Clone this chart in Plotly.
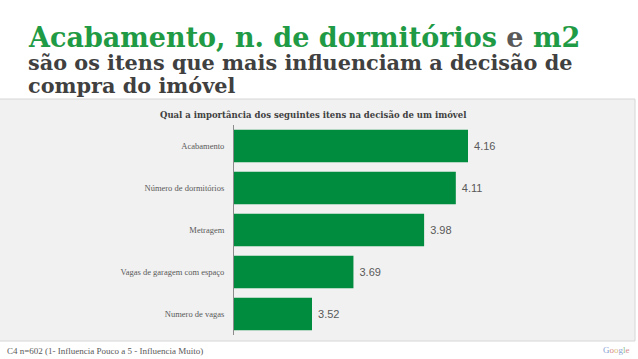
import plotly.graph_objects as go

categories = ["Acabamento", "Número de dormitórios", "Metragem",
              "Vagas de garagem com espaço", "Numero de vagas"]
values = [4.16, 4.11, 3.98, 3.69, 3.52]
value_labels = ["4.16", "4.11", "3.98", "3.69", "3.52"]

W, H = 638, 359
L, R, T, B = 234, 58, 125, 24
PW, PH = W - L - R, H - T - B

def px(x):
    return (x - L) / PW

def py(y):
    return 1 - (y - T) / PH

GREEN = "#008c3e"
HEAD_GREEN = "#1f9a45"

fig = go.Figure(go.Bar(
    x=values, y=categories, orientation="h",
    marker=dict(color=GREEN, line=dict(width=0)),
    width=0.77,
    text=[" " + t for t in value_labels], textposition="outside",
    textfont=dict(family="Liberation Sans", size=11, color="#595959"),
    cliponaxis=False,
))

fig.update_layout(
    width=W, height=H,
    margin=dict(l=L, r=R, t=T, b=B, autoexpand=False),
    paper_bgcolor="white",
    plot_bgcolor="rgba(0,0,0,0)",
    showlegend=False,
)
fig.update_xaxes(range=[3.2, 3.2 + PW / 243.75], showticklabels=False,
                 showgrid=False, zeroline=False, showline=False)
fig.update_yaxes(categoryorder="array", categoryarray=categories[::-1],
                 showline=True, linecolor="#8c8c8c", linewidth=1,
                 showgrid=False, zeroline=False, ticks="",
                 ticklabelstandoff=7,
                 tickfont=dict(family="Liberation Serif", size=8.5, color="#595959"))

# gray panel
fig.add_shape(type="rect", xref="paper", yref="paper",
              x0=px(-1), x1=px(635), y0=py(99), y1=py(341),
              fillcolor="#f1f1f1", line=dict(color="#d6d6d6", width=1),
              layer="below")

# headline
fig.add_annotation(xref="paper", yref="paper", x=px(26), y=py(38),
                   xanchor="left", yanchor="middle", showarrow=False,
                   text=("<b><span style='color:%s'>Acabamento, n. de dormitórios</span>"
                         "<span style='color:#595959'> e </span>"
                         "<span style='color:%s'>m2</span></b>") % (HEAD_GREEN, HEAD_GREEN),
                   font=dict(family="DejaVu Serif", size=27))
fig.add_annotation(xref="paper", yref="paper", x=px(26), y=py(63),
                   xanchor="left", yanchor="middle", showarrow=False,
                   text="<b>são os itens que mais influenciam a decisão de</b>",
                   font=dict(family="DejaVu Serif", size=20.8, color="#404040"))
fig.add_annotation(xref="paper", yref="paper", x=px(26), y=py(85),
                   xanchor="left", yanchor="middle", showarrow=False,
                   text="<b>compra do imóvel</b>",
                   font=dict(family="DejaVu Serif", size=20.8, color="#404040"))

# chart title
fig.add_annotation(xref="paper", yref="paper", x=px(313), y=py(115),
                   xanchor="center", yanchor="middle", showarrow=False,
                   text="<b>Qual a importância dos seguintes itens na decisão de um imóvel</b>",
                   font=dict(family="DejaVu Serif", size=8.5, color="#404040"))

# footnote
fig.add_annotation(xref="paper", yref="paper", x=px(5), y=py(351),
                   xanchor="left", yanchor="middle", showarrow=False,
                   text="C4 n=602 (1- Influencia Pouco a 5 - Influencia Muito)",
                   font=dict(family="Liberation Serif", size=9, color="#595959"))
fig.add_annotation(xref="paper", yref="paper", x=px(632), y=py(350),
                   xanchor="right", yanchor="middle", showarrow=False,
                   text=("<span style='color:#8aa3d6'>G</span><span style='color:#d98c8c'>o</span>"
                         "<span style='color:#d9c27a'>o</span><span style='color:#8aa3d6'>g</span>"
                         "<span style='color:#8cc08c'>l</span><span style='color:#d98c8c'>e</span>"),
                   font=dict(family="Liberation Serif", size=9))

fig.write_html("out.html", config={"displayModeBar": False},
               post_script="document.body.style.margin='0';document.body.style.overflow='hidden';")
